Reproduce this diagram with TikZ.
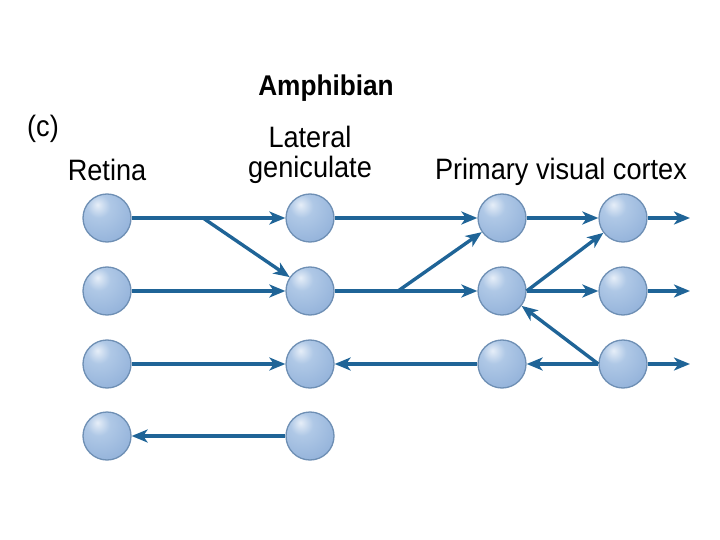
\documentclass[tikz,border=0pt]{standalone}
\usepackage{fontspec}
\setmainfont{Liberation Sans}[FakeStretch=0.92]
\usetikzlibrary{arrows.meta}
\definecolor{arr}{HTML}{1F6497}
\definecolor{ballbd}{HTML}{6E8FB4}
\definecolor{hl}{HTML}{E6EEF8}
\definecolor{mid}{HTML}{AFC8E6}
\definecolor{edge}{HTML}{8AABD6}
\pgfdeclareradialshading{sph}{\pgfpoint{-10bp}{14bp}}{color(0bp)=(hl); color(12bp)=(mid); color(45bp)=(edge); color(70bp)=(edge!88!black); color(100bp)=(edge!88!black)}
\tikzset{
  ball/.style={circle, minimum size=48pt, inner sep=0pt, draw=ballbd, line width=1.3pt, shading=sph},
  con/.style={draw=arr, line width=3.4pt, -{Stealth[length=16pt,width=13pt,inset=4.5pt]}},
  lbl/.style={font=\fontsize{29.5}{30}\selectfont, inner sep=0pt},
}
\begin{document}
\begin{tikzpicture}[x=1pt,y=-1pt]
\useasboundingbox (0,0) rectangle (720,540);
% labels
\node[lbl, font=\fontsize{28.5}{30}\selectfont\bfseries] (title) at (326,88) {Amphibian};
\node[lbl] (c) at (43,129) {(c)};
\node[lbl] (ret) at (107,170) {Retina};
\node[lbl, align=center] (lat) at (310,155) {Lateral\\geniculate};
\node[lbl] (pvc) at (561,172) {Primary visual cortex};
% columns
\foreach \i/\y in {1/218,2/291,3/364,4/436}{
  \node[ball] (r\i) at (107,\y) {};
  \node[ball] (l\i) at (310,\y) {};
}
\foreach \i/\y in {1/218,2/291,3/364}{
  \node[ball] (p\i) at (502,\y) {};
  \node[ball] (q\i) at (623,\y) {};
}
\coordinate (b1) at (203,218);
\coordinate (b2) at (398,291);
\coordinate (o1) at (690,218);
\coordinate (o2) at (690,291);
\coordinate (o3) at (690,364);
% connectors
\draw[con] (r1) -- (l1);
\draw[con] (b1) -- (l2);
\draw[con] (r2) -- (l2);
\draw[con] (r3) -- (l3);
\draw[con] (l4) -- (r4);
\draw[con] (l1) -- (p1);
\draw[con] (l2) -- (p2);
\draw[con] (b2) -- (p1);
\draw[con] (p3) -- (l3);
\draw[con] (p1) -- (q1);
\draw[con] (p2) -- (q2);
\draw[con] (p2.east) -- (q1);
\draw[con] (q3) -- (p3);
\draw[con] (q3.west) -- (p2);
\draw[con] (q1) -- (o1);
\draw[con] (q2) -- (o2);
\draw[con] (q3) -- (o3);
\end{tikzpicture}
\end{document}
